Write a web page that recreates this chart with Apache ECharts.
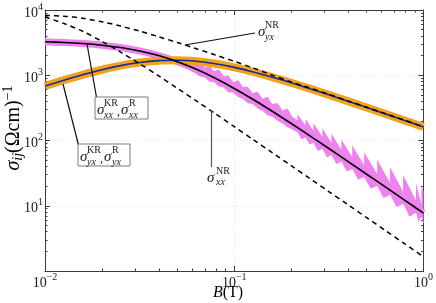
<!DOCTYPE html>
<html><head><meta charset="utf-8">
<script src="https://cdn.jsdelivr.net/npm/echarts@6/dist/echarts.min.js"></script>
<style>html,body{margin:0;padding:0;background:#fff}#c{width:436px;height:303px}</style>
</head><body><div id="c"></div>
<script>
// ---------- data ----------
const fieldB = [0.01,0.0126,0.0158,0.02,0.0251,0.0316,0.0398,0.0501,0.0631,0.0794,0.1,0.126,0.158,0.2,0.251,0.316,0.398,0.501,0.631,0.794,1.0];
const sigmaXX_R  = [3256,3178,3063,2890,2661,2360,2002,1614,1234,899,628,425,283,182,118,75.5,48.0,30.4,19.3,12.2,7.69];
const sigmaYX_R  = [684,841,1016,1214,1403,1566,1673,1698,1635,1499,1320,1125,939,766,623,501,401,320,255,203,161];
const sigmaXX_NR = [7800,6200,4719,3300,2260,1502,980,632,404,258,163,103,65.8,41.1,26.1,16.5,10.4,6.57,4.14,2.62,1.65];
const sigmaYX_NR = [8250,8035,7456,6600,5673,4746,3900,3167,2552,2046,1634,1290,1010,790,640,510,405,323,257,205,162];
// noisy KR band of sigma_xx (upper / lower envelope)
const noiseB  = [0.058,0.062,0.066,0.07,0.074,0.078,0.083,0.088,0.093,0.099,0.105,0.111,0.118,0.125,0.133,0.141,0.15,0.159,0.169,0.18,0.191,0.203,
  0.216,0.2161,0.2267,0.238,0.2381,0.2497,0.262,0.2621,0.2766,0.292,0.2921,0.3085,0.326,0.3261,0.3464,0.368,0.3681,0.3931,0.42,0.4201,0.4518,
  0.486,0.4861,0.5259,0.569,0.5691,0.6156,0.666,0.6661,0.7208,0.78,0.7801,0.8439,0.913,0.9131,0.9435,0.975,0.9751,1.0];
const noiseHi = [1574,1514,1571,1313,1414,1154,1221,963,988,780,841,660,666,534,560,435,467,358,375,289,308,230,
  204.9,252.2,207.2,170.2,216.0,174.8,141.3,184.8,145.6,114.5,154.2,119.3,92.3,127.8,96.5,72.8,103.6,76.3,56.1,84.1,59.5,
  42.0,66.3,45.1,30.7,50.8,33.8,22.5,38.9,25.3,16.4,29.7,18.9,12.0,22.1,15.3,10.5,19.4,16.9];
const noiseLo = [1191,1073,954,925,797,785,674,647,551,537,464,433,371,362,309,285,243,232,200,182,159,147,
  134.0,134.0,104,111.3,111.3,87,92.4,92.4,69,74.9,74.9,55,60.4,60.4,43.4,47.6,47.6,33.4,36.7,36.7,25,
  27.5,27.5,18.2,20.1,20.1,13.2,14.7,14.7,9.5,10.7,10.7,6.8,7.84,7.84,5.6,6.9,6.9,5.2];
// minor tick positions
const xMinorTicks = [0.02,0.03,0.04,0.05,0.06,0.07,0.08,0.09,0.2,0.3,0.4,0.5,0.6,0.7,0.8,0.9];
const yMinorTicks = [2,3,4,5,6,7,8,9,20,30,40,50,60,70,80,90,200,300,400,500,600,700,800,900,2000,3000,4000,5000,6000,7000,8000,9000];

// ---------- chart ----------
const serif = '"Liberation Serif","DejaVu Serif",serif';
const axisColor = '#3c3c3c';
const txt = '#1a1a1a';
function expLabel(v, isY) {
  const e = Math.round(Math.log10(v));
  if (isY && e === 0) return '';
  const s = e < 0 ? '\u2212' + (-e) : String(e);
  return '{b|10}{e|' + s + '}';
}
const xRich = {b:{fontFamily:serif,fontSize:14,color:txt}, e:{fontFamily:serif,fontSize:10,color:txt,padding:[0,0,12,0]}};
const yRich = {b:{fontFamily:serif,fontSize:14,color:txt,padding:[6,0,0,0]}, e:{fontFamily:serif,fontSize:10,color:txt,padding:[0,0,6,0]}};

function mkAxis(base, pos, major, labels, rich, isY) {
  const a = Object.assign({}, base, {position: pos, gridIndex: 0});
  a.axisLine = {show: major, onZero: false, lineStyle: {color: axisColor, width: 1}};
  a.axisTick = {show: true, inside: true, length: major ? 5 : 2.5, lineStyle: {color: axisColor, width: 1}};
  if (!major) a.axisTick.customValues = isY ? yMinorTicks : xMinorTicks;
  a.axisLabel = labels ? {show: true, margin: isY ? 2 : 1, formatter: v => expLabel(v, isY), rich: rich} : {show: false};
  a.splitLine = (major && labels) ? {show: true, lineStyle: {color: '#e2e2e2', type: [1, 2], width: 1}} : {show: false};
  a.minorTick = {show: false};
  return a;
}
const baseX = {type: 'log', logBase: 10, min: 0.01, max: 1};
const baseY = {type: 'log', logBase: 10, min: 1, max: 10000};

function pairs(ys) { return fieldB.map((b, i) => [b, ys[i]]); }

const chart = echarts.init(document.getElementById('c'), null, {renderer: 'canvas'});

function t(x, y, s, size, italic) {
  return {type: 'text', x: x, y: y, z: 100, style: {text: s, font: (italic ? 'italic ' : '') + size + 'px ' + serif, fill: txt, textVerticalAlign: 'middle', textAlign: 'left'}};
}
function ln(x1, y1, x2, y2, c) {
  return {type: 'line', z: 90, shape: {x1: x1, y1: y1, x2: x2, y2: y2}, style: {stroke: c || '#111', lineWidth: 1.2}};
}
function boxLabel(bx, by, w, h, sub) {
  return [
    {type: 'rect', z: 95, shape: {x: bx, y: by, width: w, height: h}, style: {fill: '#fff', stroke: '#7a7a7a', lineWidth: 1}},
    t(bx + 2, by + 13, 'σ', 15, true),
    t(bx + 9, by + 6, 'KR', 10, false),
    t(bx + 9, by + 18, sub, 10, true),
    t(bx + 22, by + 15, ',', 12, false),
    t(bx + 26, by + 13, 'σ', 15, true),
    t(bx + 34, by + 6, 'R', 10, false),
    t(bx + 34, by + 18, sub, 10, true)
  ];
}

const graphics = [].concat(
  [ln(185, 45, 255, 33), t(258, 32, 'σ', 15, true), t(265, 25, 'NR', 10, false), t(265, 37, 'yx', 10, true)],
  [ln(87, 44, 97, 100)], boxLabel(95, 97, 53, 22, 'xx'),
  [ln(63, 84, 79, 147)], boxLabel(78, 144, 52, 22, 'yx'),
  [ln(211.5, 110, 211.5, 167, '#555'), t(207, 178, 'σ', 15, true), t(216, 171, 'NR', 10, false), t(216, 182, 'xx', 10, true)],
  [{type: 'text', x: 228, y: 293, z: 100, style: {text: '{i|B}{n|(T)}', textAlign: 'center', textVerticalAlign: 'middle',
     rich: {i: {fontFamily: serif, fontStyle: 'italic', fontSize: 16, color: txt}, n: {fontFamily: serif, fontSize: 16, color: txt}}}},
   {type: 'text', x: 14, y: 128, rotation: Math.PI / 2, z: 100, style: {text: '{s|σ}{b|ij}{n|(Ωcm)}{p|\u22121}', textAlign: 'center', textVerticalAlign: 'middle',
     rich: {s: {fontFamily: serif, fontStyle: 'italic', fontSize: 20, color: txt},
            b: {fontFamily: serif, fontStyle: 'italic', fontSize: 14, color: txt, padding: [8, 0, 0, 0]},
            n: {fontFamily: serif, fontSize: 20, color: txt},
            p: {fontFamily: serif, fontSize: 14, color: txt, padding: [0, 0, 12, 0]}}}}]
);

chart.setOption({
  animation: false,
  backgroundColor: '#fff',
  grid: {left: 45, right: 11, top: 10, bottom: 32, containLabel: false},
  xAxis: [mkAxis(baseX, 'bottom', true, true, xRich, false), mkAxis(baseX, 'bottom', false, false, null, false),
          mkAxis(baseX, 'top', true, false, null, false), mkAxis(baseX, 'top', false, false, null, false)],
  yAxis: [mkAxis(baseY, 'left', true, true, yRich, true), mkAxis(baseY, 'left', false, false, null, true),
          mkAxis(baseY, 'right', true, false, null, true), mkAxis(baseY, 'right', false, false, null, true)],
  series: [
    {type: 'line', data: pairs(sigmaXX_R), showSymbol: false, smooth: 0.3, lineStyle: {color: '#ee82ee', width: 7}, z: 1, silent: true},
    {type: 'custom', z: 1, silent: true, clip: true, data: [[noiseB[0], noiseHi[0]]],
     renderItem: function (params, api) {
       const pts = [];
       for (let i = 0; i < noiseB.length; i++) pts.push(api.coord([noiseB[i], noiseHi[i]]));
       for (let i = noiseB.length - 1; i >= 0; i--) pts.push(api.coord([noiseB[i], noiseLo[i]]));
       return {type: 'polygon', shape: {points: pts}, style: {fill: '#ee82ee'}};
     }},
    {type: 'line', data: pairs(sigmaYX_R), showSymbol: false, smooth: 0.3, lineStyle: {color: '#f2a21c', width: 8}, z: 2, silent: true},
    {type: 'line', data: pairs(sigmaYX_R), showSymbol: false, smooth: 0.3, lineStyle: {color: '#1b2a94', width: 1.6}, z: 3, silent: true},
    {type: 'line', data: pairs(sigmaXX_R), showSymbol: false, smooth: 0.3, lineStyle: {color: '#000', width: 1.6}, z: 3, silent: true},
    {type: 'line', data: pairs(sigmaXX_NR), showSymbol: false, smooth: 0.3, lineStyle: {color: '#000', width: 1.5, type: [5, 4]}, z: 4, silent: true},
    {type: 'line', data: pairs(sigmaYX_NR), showSymbol: false, smooth: 0.3, lineStyle: {color: '#000', width: 1.5, type: [5, 4]}, z: 4, silent: true}
  ],
  graphic: graphics
});
</script>
</body></html>
